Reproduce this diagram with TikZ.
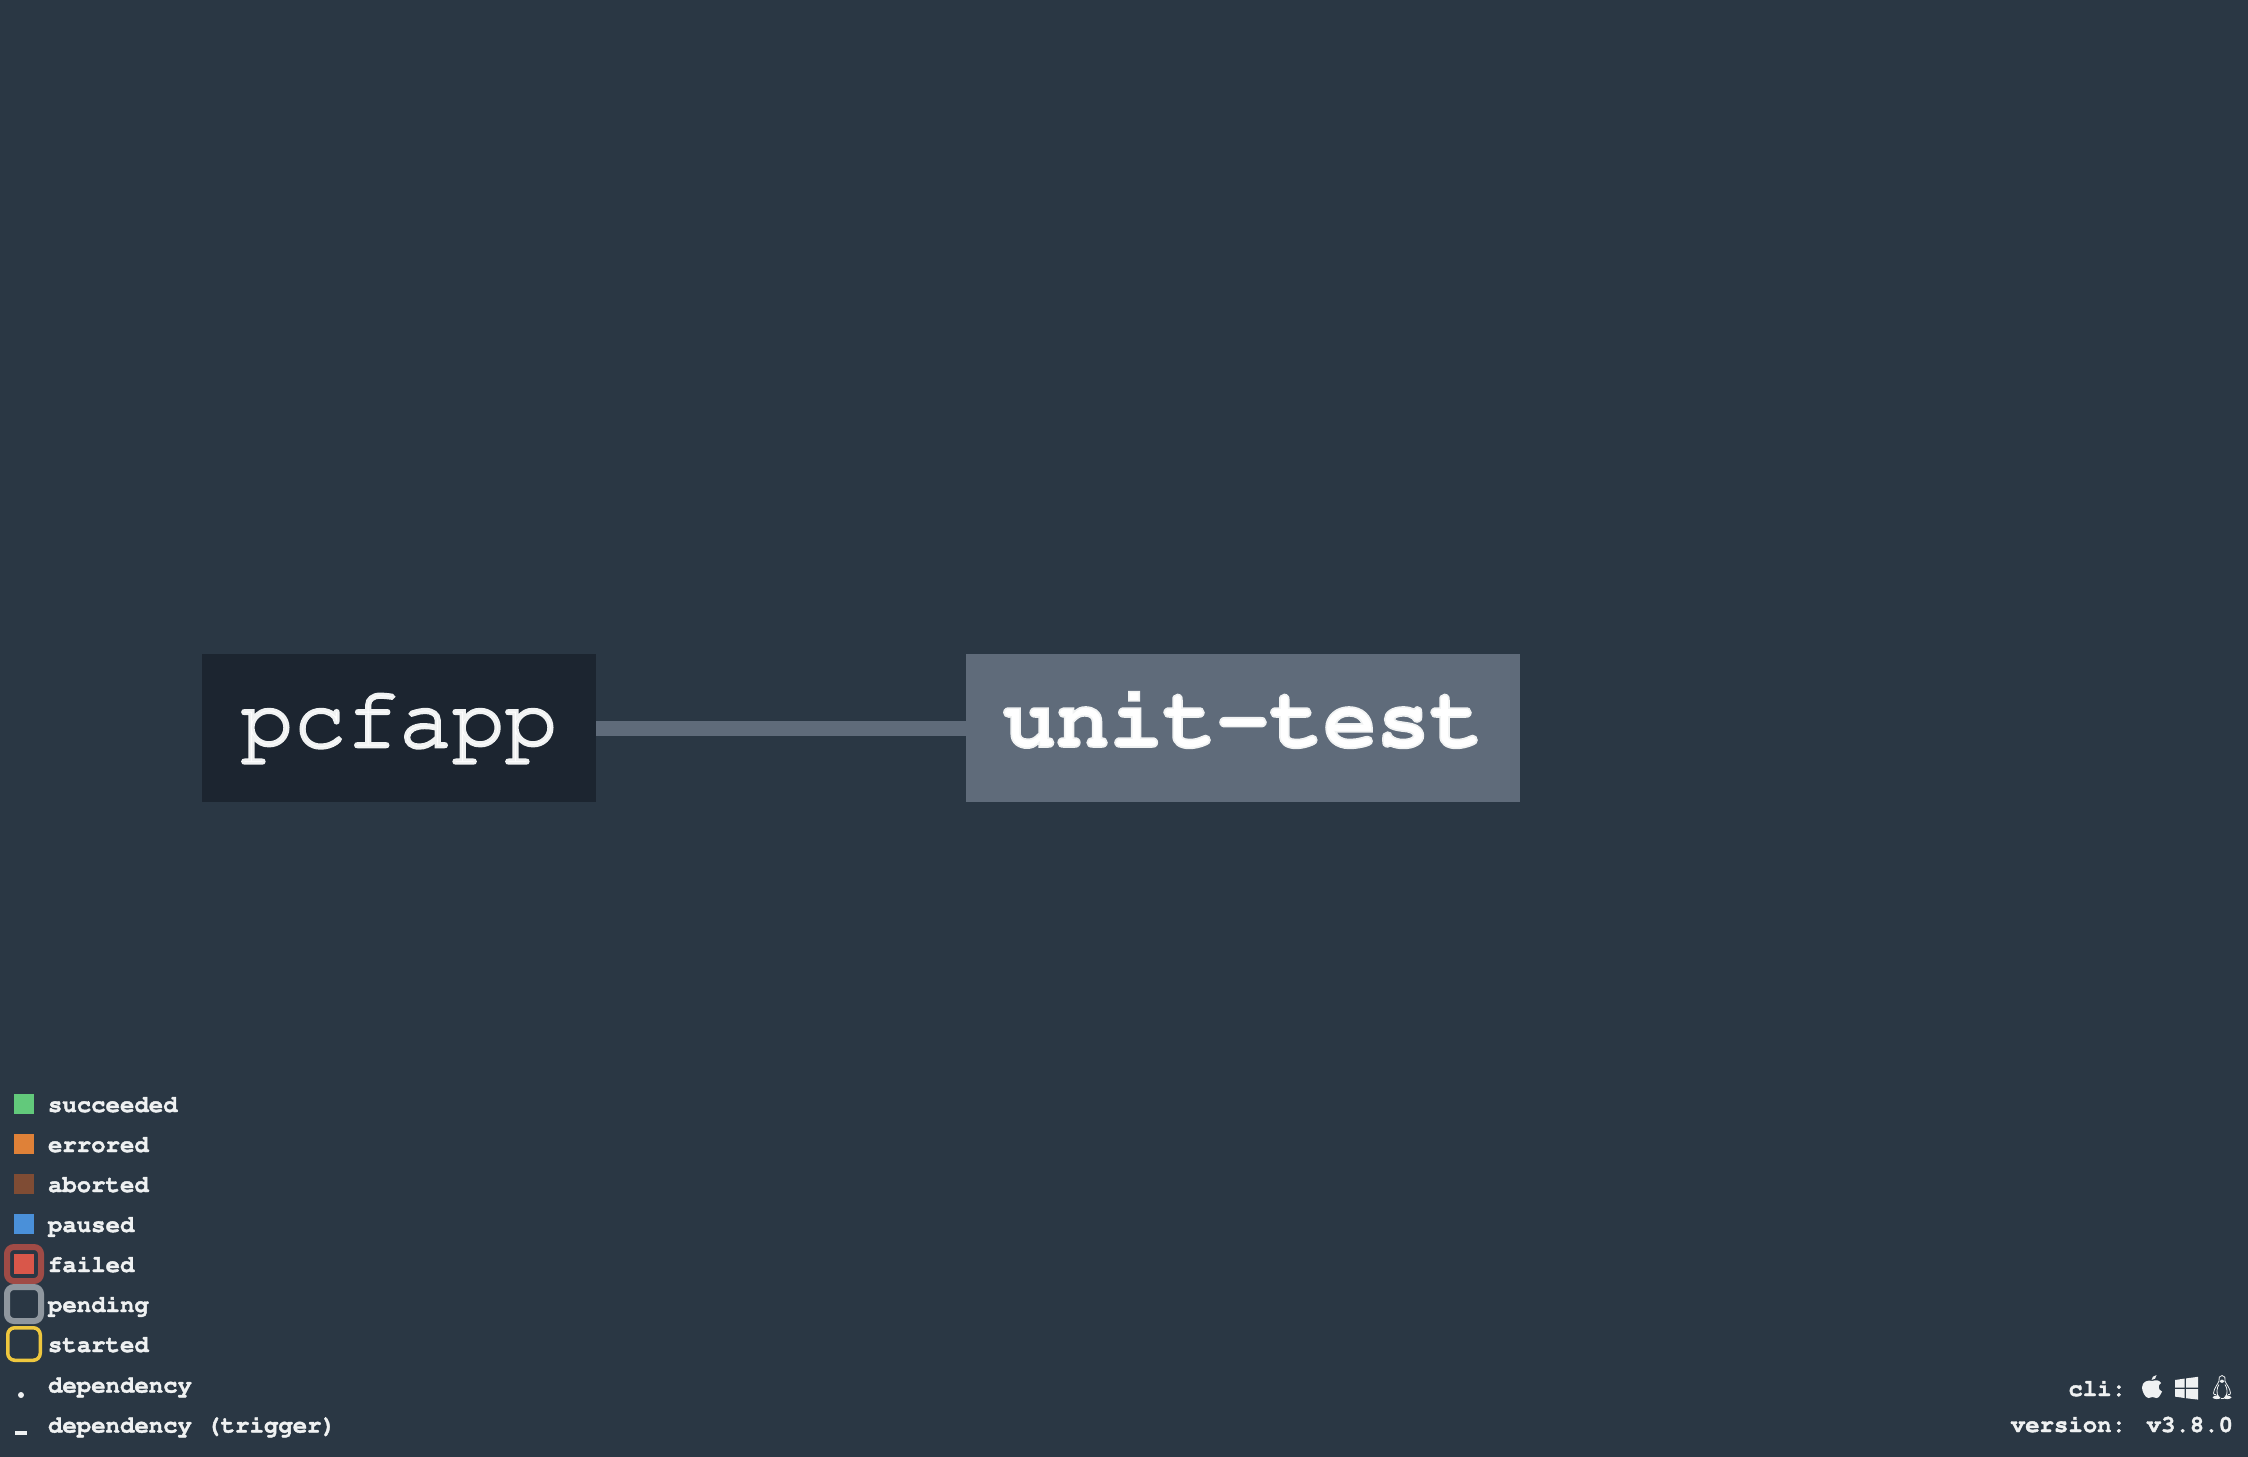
\documentclass[tikz,border=0pt]{standalone}
\usepackage[T1]{fontenc}
\usepackage{tikz}
\usetikzlibrary{positioning}
\definecolor{bgblue}{HTML}{2A3744}
\definecolor{darkjob}{HTML}{1C2530}
\definecolor{greyjob}{HTML}{5F6B7A}
\definecolor{lighttext}{HTML}{EFF1F2}
\definecolor{okgreen}{HTML}{62C97B}
\definecolor{erorange}{HTML}{DF8138}
\definecolor{abbrown}{HTML}{7F4C34}
\definecolor{paublue}{HTML}{4A90D9}
\definecolor{failred}{HTML}{D9574A}
\definecolor{failring}{HTML}{A04B46}
\definecolor{pendring}{HTML}{8F979F}
\definecolor{startyellow}{HTML}{EEC73E}
\newcommand{\crfont}[1]{\fontfamily{pcr}\fontsize{#1}{#1}\selectfont}
% stroke the letters a little, the font alone is too thin
\newcommand{\heavy}[2]{\special{pdf:code 2 Tr #1 w 0.94 0.95 0.95 RG}#2\special{pdf:code 0 Tr 1 w}}

\begin{document}
\begin{tikzpicture}[x=1pt, y=-1pt, node distance=844pt, auto]
\tikzstyle{every node}=[inner sep=0pt, outer sep=0pt]
\tikzstyle{job}=[minimum height=148pt, text height=93pt, text depth=55pt, align=center, text=white]
\tikzstyle{legendtext}=[anchor=base west, text=lighttext, font=\crfont{24}\bfseries]
\tikzstyle{legendbox}=[minimum size=20pt]
\tikzstyle{ringbox}=[minimum size=34pt, rounded corners=7pt, fill=none]
\useasboundingbox (0,0) rectangle (2248,1456);
\fill[bgblue] (-3,-3) rectangle (2251,1459);

\node[job, fill=darkjob, minimum width=394pt, font=\crfont{88}] (pcfapp) at (399,728) {\heavy{2.6}{pcfapp}};
\node[job, fill=greyjob, minimum width=554pt, font=\crfont{89}\bfseries] (unittest) [right of=pcfapp] {\heavy{1.6}{unit-test}};
\draw[greyjob, line width=15pt] (pcfapp) -- (unittest);

% legend
\foreach \name/\col/\y in {succeeded/okgreen/1104, errored/erorange/1144, aborted/abbrown/1184, paused/paublue/1224, failed/failred/1264}
{\node[legendbox, fill=\col] (box\name) at (24,\y) {};
 \node[legendtext] (txt\name) at (48,\y+8) {\heavy{0.4}{\name}};}
\node[ringbox, draw=failring, line width=6pt] (ringfailed) at (boxfailed) {};
\node[ringbox, draw=pendring, line width=6pt] (ringpending) at (24,1304) {};
\node[legendtext] (txtpending) at (48,1312) {\heavy{0.4}{pending}};
\node[ringbox, draw=startyellow, line width=3.5pt, minimum size=32.5pt] (ringstarted) at (24,1344) {};
\node[legendtext] (txtstarted) at (48,1352) {\heavy{0.4}{started}};
\node[circle, fill=lighttext, minimum size=6pt] (dotdep) at (21,1395) {};
\node[legendtext] (txtdep) at (48,1392.5) {\heavy{0.4}{dependency}};
\node[fill=lighttext, minimum width=12pt, minimum height=4pt] (dashdep) at (21,1432.5) {};
\node[legendtext] (txttrig) at (48,1432.5) {\heavy{0.4}{dependency (trigger)}};

% bottom right
\node[legendtext, anchor=base east] (cli) at (2126,1396) {\heavy{0.4}{cli:}};
\node[legendtext, anchor=base east] (version) at (2126,1432) {\heavy{0.4}{version:}};
\node[legendtext, anchor=base east] (vnum) at (2233,1432) {\heavy{0.4}{v3.8.0}};

% apple
\fill[lighttext] (2152.5,1381) .. controls (2156,1379.5) and (2159,1380) .. (2161,1383)
  .. controls (2157.5,1385) and (2158,1390) .. (2162,1391.5)
  .. controls (2160.5,1395) and (2158.5,1398) .. (2156.5,1398)
  .. controls (2155,1398) and (2154,1397) .. (2152.5,1397)
  .. controls (2151,1397) and (2150,1398) .. (2148.5,1398)
  .. controls (2145,1398) and (2142,1391) .. (2142,1387.5)
  .. controls (2142,1381.5) and (2148,1379.5) .. (2152.5,1381) -- cycle;
\fill[lighttext] (2151.5,1380) .. controls (2151.5,1377.5) and (2153.5,1375.5) .. (2156.5,1375)
  .. controls (2156.5,1378) and (2154.5,1380) .. (2151.5,1380) -- cycle;
% windows
\fill[lighttext] (2175,1380) -- (2184.5,1378.6) -- (2184.5,1387.6) -- (2175,1387.6) -- cycle;
\fill[lighttext] (2186,1378.4) -- (2198,1376.8) -- (2198,1387.6) -- (2186,1387.6) -- cycle;
\fill[lighttext] (2175,1389) -- (2184.5,1389) -- (2184.5,1398) -- (2175,1396.6) -- cycle;
\fill[lighttext] (2186,1389) -- (2198,1389) -- (2198,1399.6) -- (2186,1398.2) -- cycle;
% linux
\draw[lighttext, line width=0.8pt] (2222,1375.5) .. controls (2219,1375.5) and (2218.5,1378) .. (2219,1381)
  .. controls (2218,1384) and (2214,1388) .. (2213.5,1393)
  .. controls (2213.5,1394.5) and (2214.5,1395) .. (2216,1394.5);
\draw[lighttext, line width=0.8pt] (2222,1375.5) .. controls (2225,1375.5) and (2225.5,1378) .. (2225,1381)
  .. controls (2226,1384) and (2230,1388) .. (2230.5,1393)
  .. controls (2230.5,1394.5) and (2229.5,1395) .. (2228,1394.5);
\draw[lighttext, line width=0.8pt] (2219,1384.5) .. controls (2216.5,1388) and (2216.5,1393) .. (2218,1396)
  (2225,1384.5) .. controls (2227.5,1388) and (2227.5,1393) .. (2226,1396);
\fill[lighttext] (2218,1395) .. controls (2215,1395) and (2212.5,1397) .. (2212.5,1397.5)
  .. controls (2214,1399.5) and (2219,1399.5) .. (2220.5,1398) -- cycle;
\fill[lighttext] (2226,1395) .. controls (2229,1395) and (2231.5,1397) .. (2231.5,1397.5)
  .. controls (2230,1399.5) and (2225,1399.5) .. (2223.5,1398) -- cycle;
\draw[lighttext, line width=0.8pt] (2220.5,1398) -- (2223.5,1398);
\fill[lighttext] (2219.5,1381) .. controls (2221,1383.5) and (2223,1383.5) .. (2224.5,1381) -- (2222,1379.5) -- cycle;
\end{tikzpicture}
\end{document}
